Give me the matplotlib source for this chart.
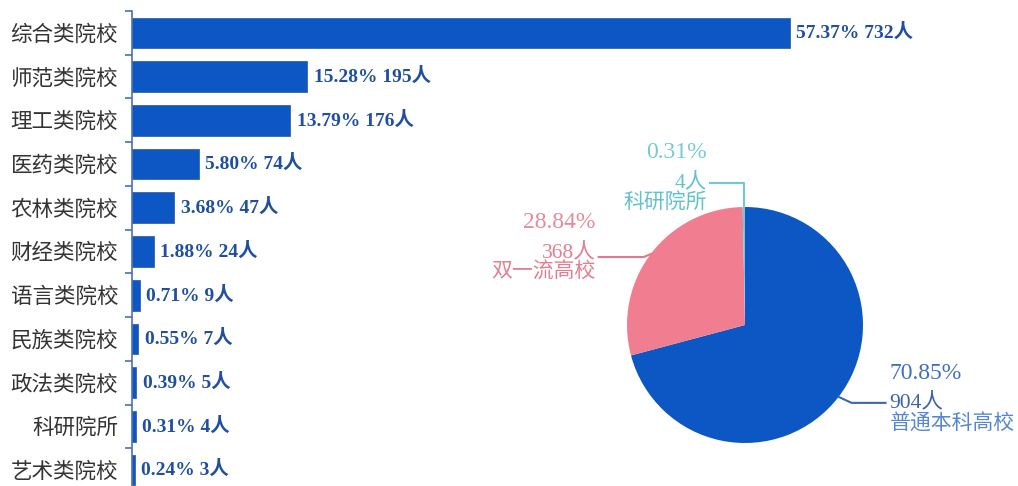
import numpy as np
import matplotlib.pyplot as plt

plt.rcParams['font.family'] = ['Liberation Serif', 'Noto Sans CJK SC']

# bar chart data
categories = ['综合类院校', '师范类院校', '理工类院校', '医药类院校', '农林类院校', '财经类院校',
              '语言类院校', '民族类院校', '政法类院校', '科研院所', '艺术类院校']
counts = [732, 195, 176, 74, 47, 24, 9, 7, 5, 4, 3]
shares = [57.37, 15.28, 13.79, 5.80, 3.68, 1.88, 0.71, 0.55, 0.39, 0.31, 0.24]

# pie chart data
pie_labels = ['普通本科高校', '双一流高校', '科研院所']
pie_counts = [904, 368, 4]
pie_shares = [70.85, 28.84, 0.31]

BLUE = '#0d57c4'
PINK = '#f07d90'
CYAN = '#6fcad6'

fig = plt.figure(figsize=(10.18, 4.86), dpi=100)
W, H = 1018, 486

# ---- horizontal bars
ax = fig.add_axes([132 / W, -6 / H, 1 - 132 / W, 481 / H])
y = np.arange(len(categories))
ax.barh(y, counts, height=0.7, color=BLUE, edgecolor='#3a64a8', linewidth=0.6)
ax.set_ylim(len(categories) - 0.5, -0.5)
ax.set_xlim(0, 886 / 0.899)
for yi, c, s in zip(y, counts, shares):
    ax.text(c + 7, yi, f'{s:.2f}% {c}人', va='center', ha='left',
            fontsize=14, fontweight='bold', color='#1f4f9e')

ax.set_yticks(y)
ax.set_yticklabels(categories, fontsize=15.5, color='#333333')
ax.tick_params(axis='y', which='major', length=0, pad=10)
ax.set_yticks(np.arange(len(categories) + 1) - 0.5, minor=True)
ax.tick_params(axis='y', which='minor', length=5, color='#4a70b5', width=1.2)
ax.set_xticks([])
for side in ['top', 'right', 'bottom']:
    ax.spines[side].set_visible(False)
ax.spines['left'].set_color('#4a70b5')
ax.spines['left'].set_linewidth(1.2)

# ---- pie inset, 1 data unit = 118 px
R = 118
cx, cy = 745, H - 325
pax = fig.add_axes([(cx - R) / W, (cy - R) / H, 2 * R / W, 2 * R / H])
wedges, _ = pax.pie(pie_counts, colors=[BLUE, PINK, CYAN], startangle=90,
                    counterclock=False, radius=1.0)
pax.set_xlim(-1, 1)
pax.set_ylim(-1, 1)
pax.set_aspect('equal')

px = 1 / R  # one pixel in pie data units


def leader(ax, wedge, path, color):
    ang = np.deg2rad((wedge.theta1 + wedge.theta2) / 2)
    x0, y0 = np.cos(ang), np.sin(ang)
    xs = [x0] + [x0 + dx * px for dx, dy in path]
    ys = [y0] + [y0 + dy * px for dx, dy in path]
    ax.plot(xs, ys, color=color, lw=1.5, clip_on=False)
    return xs[-1], ys[-1]


# 普通本科高校
ex, ey = leader(pax, wedges[0], [(13, -6), (47, -6)], '#3f66ad')
pax.text(ex + 4 * px, ey + 29 * px, f'{pie_shares[0]:.2f}%', fontsize=17,
         color='#3f6fc2', ha='left', va='center')
pax.text(ex + 4 * px, ey, f'{pie_counts[0]}人', fontsize=15.5,
         color='#3a62ad', ha='left', va='center')
pax.text(ex + 4 * px, ey - 22 * px, pie_labels[0], fontsize=15,
         color='#5586d6', ha='left', va='center')

# 双一流高校
ex, ey = leader(pax, wedges[1], [(-7, -3), (-52, -3)], '#e07a8c')
pax.text(ex - 3 * px, ey + 35 * px, f'{pie_shares[1]:.2f}%', fontsize=17,
         color='#e8899a', ha='right', va='center')
pax.text(ex - 3 * px, ey + 5 * px, f'{pie_counts[1]}人', fontsize=15.5,
         color='#e47d8f', ha='right', va='center')
pax.text(ex - 3 * px, ey - 16 * px, pie_labels[1], fontsize=15,
         color='#e47d8f', ha='right', va='center')

# 科研院所
ex, ey = leader(pax, wedges[2], [(0, 24), (-34, 24)], '#6fc8d4')
pax.text(ex - 3 * px, ey + 31 * px, f'{pie_shares[2]:.2f}%', fontsize=17,
         color='#74cad6', ha='right', va='center')
pax.text(ex - 3 * px, ey, f'{pie_counts[2]}人', fontsize=15.5,
         color='#62c1cf', ha='right', va='center')
pax.text(ex - 3 * px, ey - 20 * px, pie_labels[2], fontsize=15,
         color='#62c1cf', ha='right', va='center')

fig.savefig('out.png', dpi=100)
